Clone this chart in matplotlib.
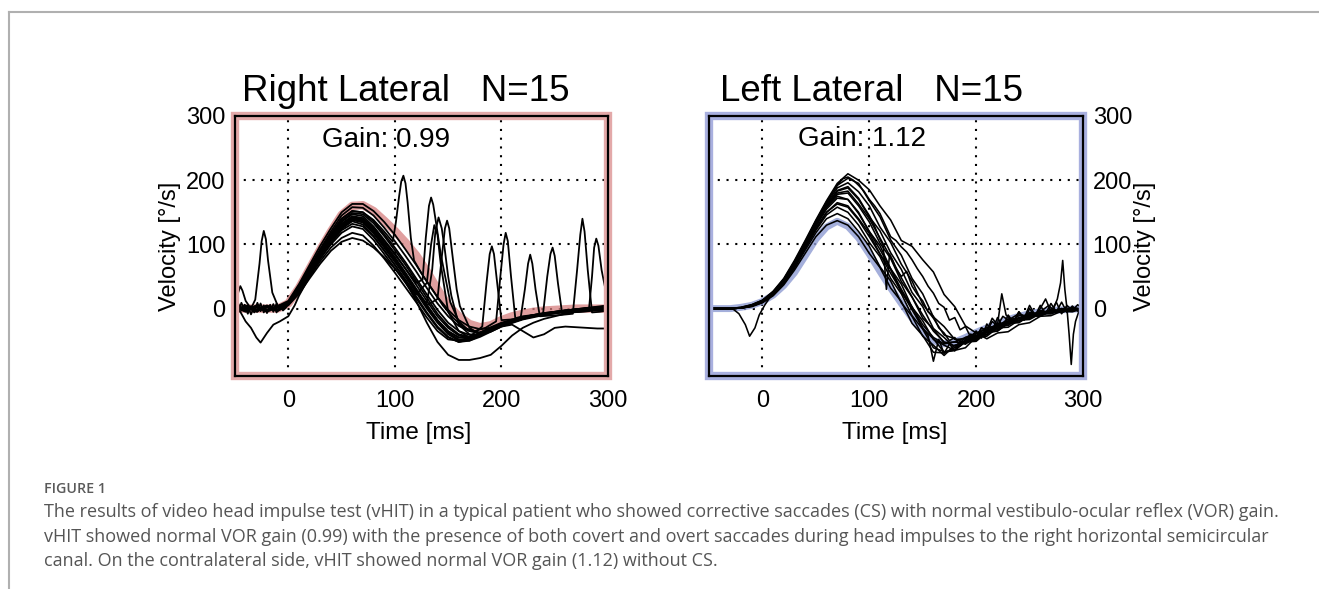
import matplotlib as mpl; mpl.use('Agg')
import matplotlib.pyplot as plt
from matplotlib.patches import Rectangle
from matplotlib.lines import Line2D

# time grid shared by most traces (ms)
t_grid = [-50, -40, -30, -20, -10, 0, 10, 20, 30, 40, 50, 60, 70, 80, 90, 100, 110, 120,
          130, 140, 150, 160, 170, 180, 190, 200, 210, 220, 230, 240, 250, 260, 270, 280, 290, 300]

# ---------------- Right Lateral (red head trace, eye traces with saccades) ----------------
head_right = [0, 0, 0, 0, 0, 8, 32, 62, 92, 120, 146, 160, 161, 152, 137, 121, 103, 83, 58, 30,
              5, -12, -24, -29, -26, -18, -12, -8, -5, -3, -2, -1, 0, 0, 0, 0]

eye_right = [
    [3, -4, 5, -3, 4, 12, 38, 68, 98, 125, 150, 163, 163, 152, 135, 115, 92, 68, 42, 18, -2, -18, -28, -32, -30, -24, -19, -14, -10, -7, -5, -3, -1, 1, 3, 5],
    [-2, 3, -5, 4, -2, 10, 35, 64, 93, 120, 145, 158, 157, 145, 126, 105, 82, 58, 32, 8, -12, -27, -35, -37, -32, -26, -20, -15, -11, -8, -5, -3, -1, 1, 2, 4],
    [4, -3, 2, -4, 3, 9, 33, 62, 90, 116, 140, 152, 150, 136, 116, 95, 72, 47, 22, -2, -22, -35, -41, -40, -34, -27, -21, -16, -12, -9, -6, -4, -2, 0, 2, 3],
    [-3, 2, -2, 5, -3, 8, 31, 60, 87, 112, 135, 147, 144, 128, 107, 86, 62, 37, 12, -12, -30, -42, -45, -40, -33, -26, -20, -15, -11, -8, -6, -4, -3, -1, 0, 1],
    [2, -5, 3, -2, 2, 8, 30, 58, 85, 109, 130, 142, 138, 121, 99, 77, 53, 28, 3, -20, -38, -48, -48, -41, -33, -26, -20, -15, -11, -8, -6, -4, -2, -1, 1, 2],
    [-4, 4, -3, 3, -4, 7, 28, 55, 82, 105, 124, 136, 131, 113, 91, 68, 44, 19, -6, -28, -44, -52, -50, -42, -34, -27, -21, -16, -12, -9, -7, -5, -3, -2, -1, 0],
    [3, -2, 4, -5, 3, 7, 27, 53, 78, 100, 118, 128, 124, 107, 85, 63, 40, 16, -8, -30, -45, -52, -48, -40, -32, -25, -19, -15, -12, -9, -7, -6, -5, -4, -3, -2],
    [-2, 5, -4, 2, -2, 6, 25, 50, 74, 95, 110, 118, 114, 98, 78, 56, 33, 10, -14, -35, -48, -50, -45, -37, -29, -22, -17, -13, -10, -8, -6, -5, -4, -3, -2, -1],
    [2, -3, 4, -3, 2, 5, 23, 47, 70, 90, 104, 110, 106, 95, 80, 62, 42, 12, -22, -52, -72, -80, -80, -77, -72, -58, -42, -30, -22, -16, -12, -8, -5, -3, -1, 0],
    [-1, 2, -4, 3, -2, 9, 31, 58, 85, 108, 128, 140, 136, 119, 97, 74, 50, 25, 0, -22, -40, -50, -50, -44, -36, -28, -25, -35, -45, -40, -30, -28, -29, -30, -31, -31],
]

# traces with a noisy baseline before the impulse
base_t = [-50, -47, -44, -41, -38, -35, -32, -29, -26, -23, -20, -17, -14, -11, -8, -5, -2, 0,
          10, 20, 30, 40, 50, 60, 70, 80, 90, 100, 110, 120, 130, 140, 150, 160, 170, 180,
          190, 200, 210, 220, 230, 240, 250, 260, 270, 280, 290, 300]
base_a_v = [-5, 8, -3, 6, -8, 4, -6, 9, -4, 5, -7, 6, -5, 8, -2, 4, 6, 10,
            29, 57, 84, 108, 128, 140, 136, 120, 98, 76, 53, 29, 5, -18, -35, -45, -46, -40,
            -32, -25, -19, -14, -10, -7, -5, -3, -1, 0, 1, 2]
base_b_v = [6, -6, 9, -2, 5, -9, 3, -5, 8, -6, 4, -3, 7, -6, 5, -3, 2, 7,
            33, 61, 89, 114, 137, 149, 147, 133, 113, 91, 68, 43, 17, -8, -27, -40, -44, -40,
            -33, -26, -20, -15, -11, -8, -6, -4, -2, 0, 1, 3]

# traces with corrective saccades (own time points)
sac_a_t = [-50, -47, -45, -43, -40, -35, -31, -27, -25, -23, -21, -19, -15, -10, -5, 0,
           10, 20, 30, 40, 50, 60, 70, 80, 90, 100, 110, 120, 130, 140, 150, 160, 170,
           182, 186, 189, 191, 193, 196, 200, 209, 218, 222, 225, 227, 229, 232, 236, 245, 255,
           267, 271, 274, 276, 278, 281, 285, 292, 300]
sac_a_v = [5, 25, 35, 28, 12, 0, 14, 70, 105, 121, 108, 75, 25, 5, 0, 8,
           30, 57, 85, 110, 132, 143, 140, 124, 102, 80, 56, 31, 6, -18, -36, -45, -44,
           -28, 40, 85, 97, 85, 40, -18, -17, -15, 30, 70, 84, 70, 30, -12, -11, -10,
           -8, 60, 115, 140, 120, 60, -6, -5, -3]
sac_b_t = [-50, -40, -30, -20, -10, 0, 10, 20, 30, 40, 50, 60, 70, 80, 90,
           98, 101, 104, 106, 108, 110, 112, 115, 118, 125, 135, 145, 155, 165, 175, 185,
           195, 199, 202, 204, 206, 209, 213, 220, 230, 239, 243, 246, 248, 250, 253, 257,
           265, 275, 282, 285, 287, 289, 291, 294, 297, 300]
sac_b_v = [-3, 4, -2, 3, -3, 9, 33, 62, 90, 116, 140, 152, 150, 138, 120,
           104, 135, 175, 198, 207, 195, 165, 110, 75, 55, 30, 5, -15, -30, -35, -30,
           -20, 50, 100, 118, 105, 50, -15, -12, -10, -9, 50, 85, 95, 82, 40, -8,
           -6, -5, -4, 50, 95, 109, 98, 60, 35, 20]
sac_c_t = [-50, -40, -30, -20, -10, 0, 10, 20, 30, 40, 50, 60, 70, 80, 90, 100, 110, 120,
           126, 129, 132, 134, 136, 139, 143, 146, 152, 160, 170, 180, 190, 200, 220, 240, 260, 280, 300]
sac_c_v = [2, -3, 3, -4, 2, 8, 31, 59, 86, 110, 132, 144, 141, 126, 105, 84, 62, 40,
           45, 110, 160, 173, 162, 130, 85, 60, 10, -20, -35, -38, -32, -25, -15, -8, -3, 0, 2]
sac_d_t = [-50, -40, -30, -20, -10, 0, 10, 20, 30, 40, 50, 60, 70, 80, 90, 100, 110, 120, 130,
           135, 138, 141, 144, 147, 150, 153, 160, 170, 180, 190, 200, 220, 240, 260, 280, 300]
sac_d_v = [-3, 2, -4, 3, -3, 7, 29, 56, 83, 106, 126, 138, 134, 117, 95, 73, 50, 26, 8,
           60, 120, 142, 125, 90, 50, 20, -25, -40, -42, -35, -27, -16, -9, -4, -1, 1]
sac_e_t = [-50, -40, -30, -20, -10, 0, 10, 20, 30, 40, 50, 60, 70, 80, 90, 100, 110, 120, 130, 140,
           144, 147, 149, 151, 155, 158, 161, 170, 180, 190, 200, 220, 240, 260, 280, 300]
sac_e_v = [4, -2, 2, -3, 4, 8, 30, 57, 84, 108, 128, 140, 136, 120, 98, 76, 53, 29, 5, 15,
           80, 125, 137, 125, 70, 30, 4, -30, -40, -36, -28, -17, -10, -5, -2, 0]
sac_f_t = [-50, -45, -40, -35, -30, -26, -20, -14, -8, -4, 0,
           6, 10, 20, 30, 40, 50, 60, 70, 80, 90, 100, 110, 120, 130,
           134, 137, 140, 143, 150, 160, 170, 180, 190, 200, 220, 240, 260, 280, 300]
sac_f_v = [0, -5, -20, -30, -45, -53, -38, -25, -20, -16, -12,
           5, 20, 50, 78, 102, 122, 132, 128, 112, 90, 68, 45, 22, 40,
           100, 130, 115, 70, -5, -35, -45, -42, -34, -26, -15, -8, -3, 0, 2]

# ---------------- Left Lateral (blue head trace, no saccades) ----------------
head_left = [0, 0, 0, 2, 5, 11, 21, 36, 56, 82, 108, 127, 136, 128, 110, 85, 58, 32, 8, -15,
             -35, -50, -55, -52, -45, -37, -30, -23, -17, -12, -8, -5, -3, -2, -1, 0]

eye_left = [
    [0, 0, 0, 2, 6, 13, 27, 47, 75, 106, 138, 168, 195, 210, 200, 185, 160, 138, 106, 97, 76, 57, 22, 3, -27, -38, -47, -38, -36, -25, -22, -12, -11, -4, -5, 0],
    [0, 0, 0, 2, 6, 13, 26, 46, 73, 104, 136, 166, 192, 203, 195, 168, 143, 107, 83, 47, 23, -13, -28, -48, -47, -49, -37, -35, -23, -22, -11, -11, -4, -6, 0, -1],
    [0, 0, 0, 1, 5, 12, 25, 44, 72, 103, 135, 163, 188, 196, 182, 160, 127, 103, 69, 43, 7, -15, -41, -47, -55, -45, -43, -30, -29, -18, -17, -8, -8, -1, -3, 1],
    [0, 0, 0, 1, 5, 12, 24, 43, 70, 100, 131, 160, 183, 188, 170, 143, 121, 87, 61, 25, 3, -31, -45, -61, -52, -51, -37, -35, -22, -21, -11, -12, -4, -6, 0, -2],
    [0, 0, 0, 1, 5, 11, 24, 43, 69, 99, 130, 158, 178, 180, 160, 135, 102, 78, 42, 18, -15, -32, -53, -52, -55, -42, -40, -27, -26, -15, -15, -7, -8, -2, -3, 1],
    [0, 0, 0, 1, 4, 11, 23, 42, 68, 98, 128, 155, 172, 170, 150, 120, 98, 62, 38, 2, -19, -48, -57, -65, -52, -49, -35, -33, -20, -19, -9, -10, -3, -5, 1, -1],
    [0, 0, 0, 1, 4, 11, 23, 41, 67, 96, 125, 150, 165, 160, 140, 117, 85, 61, 25, 3, -31, -47, -68, -65, -61, -44, -41, -27, -26, -14, -14, -6, -7, -1, -3, 1],
    [0, 0, 0, 1, 4, 10, 22, 40, 65, 94, 122, 146, 158, 150, 130, 103, 81, 47, 23, -11, -32, -61, -67, -65, -49, -47, -33, -31, -19, -19, -8, -9, -2, -4, 1, -1],
    [0, 0, 0, 1, 4, 10, 21, 39, 63, 91, 118, 140, 148, 140, 120, 97, 65, 43, 9, -12, -43, -57, -73, -57, -53, -39, -37, -24, -23, -11, -12, -4, -6, 0, -3, 1],
    [0, 0, 0, 1, 3, 9, 20, 37, 60, 86, 112, 130, 137, 130, 112, 86, 64, 32, 11, -23, -42, -68, -69, -61, -45, -43, -29, -28, -16, -16, -6, -8, -1, -4, 1, -1],
]

noisy_a_t = [-50, -40, -30, -20, -10, 0, 10, 20, 30, 40, 50, 60, 70, 75, 80,
             85, 90, 95, 100, 105, 110, 115, 120, 125, 130, 135, 140, 145, 150, 155, 160, 165, 170,
             175, 180, 185, 190, 195, 200, 205, 210, 215, 220, 225, 230, 235, 240, 245, 250, 255,
             260, 265, 270, 275, 280, 285, 290, 295, 300]
noisy_a_v = [0, 0, 0, 1, 5, 12, 25, 45, 72, 104, 136, 166, 192, 202, 205,
             200, 192, 183, 170, 160, 148, 130, 112, 106, 96, 88, 76, 62, 50, 35, 24, 8, 2,
             -18, -14, -33, -28, -45, -35, -46, -24, -35, -14, -28, -10, -22, -5, -18, 0, -12,
             5, -8, 8, -5, 10, -6, 4, -4, 2]
noisy_b_t = [-50, -40, -30, -20, -10, 0, 10, 20, 30, 40, 50, 60, 70, 80, 90,
             95, 100, 105, 110, 113, 116, 119, 122, 125,
             130, 135, 140, 145, 150, 155, 160, 165, 170, 175, 180, 185, 190, 195, 200, 205, 210,
             215, 220, 225, 230, 240, 250, 260, 270, 280, 290, 300]
noisy_b_v = [0, 0, 0, 1, 5, 12, 24, 44, 71, 101, 133, 161, 184, 190, 172,
             158, 145, 128, 108, 98, 30, 85, 75, 62,
             50, 58, 35, 22, 12, -5, -12, -30, -38, -50, -45, -58, -48, -40, -46, -30, -36,
             -20, -27, -12, -18, -8, -14, -3, -7, 0, -3, 0]
noisy_c_t = [-50, -40, -30, -20, -10, 0, 10, 20, 30, 40, 50, 60, 70, 80, 90, 100, 110, 120, 130, 140, 150,
             155, 160, 165, 170, 175, 180, 185, 190, 195, 200, 205, 210, 215, 220,
             224, 228, 235, 240, 245, 250, 255, 260, 265, 270, 275, 280, 285, 290, 295, 300]
noisy_c_v = [0, 0, 0, 1, 4, 10, 22, 41, 66, 95, 124, 150, 163, 158, 138, 112, 85, 55, 27, -2, -30,
             -42, -82, -48, -70, -55, -66, -50, -55, -40, -45, -30, -35, -15, -25,
             23, -10, -20, -5, -15, 5, -10, 0, 15, -5, 10, -8, 5, -3, 6, 0]
spike_t = [-50, -40, -30, -20, -10, 0, 10, 20, 30, 40, 50, 60, 70, 80, 90, 100, 110, 120, 130, 140,
           150, 160, 170, 180, 190, 200, 210, 220, 230, 240, 250, 260,
           268, 272, 276, 279, 281, 283, 285, 287, 289, 291, 293, 296, 300]
spike_v = [0, 0, 0, 1, 5, 12, 24, 43, 70, 100, 131, 159, 180, 183, 163, 140, 110, 80, 48, 18,
           -10, -35, -52, -58, -50, -42, -35, -28, -20, -15, -12, -5,
           5, -2, 15, 40, 75, 30, 0, -40, -87, -40, -20, -5, 0]
dip_t = [-50, -28, -22, -16, -12, -7, -3, 2, 10, 20, 30, 40, 50, 60, 70, 80, 90, 100,
         110, 120, 130, 140, 150, 160, 170, 180, 190, 200, 220, 240, 260, 280, 300]
dip_v = [0, 0, -8, -25, -43, -30, -10, 5, 25, 45, 72, 102, 132, 158, 175, 170, 148, 120,
         92, 62, 30, 2, -25, -45, -55, -52, -45, -38, -25, -15, -8, -3, 0]

xticks = [0, 100, 200, 300]
yticks = [0, 100, 200, 300]

plt.rcParams['font.family'] = ['Liberation Sans', 'DejaVu Sans']

fig = plt.figure(figsize=(13.19, 5.89), dpi=100)
W, H = 1319., 589.

ax1 = fig.add_axes([235 / W, 1 - 376 / H, 373 / W, 260 / H])
ax2 = fig.add_axes([709 / W, 1 - 376 / H, 374 / W, 260 / H])


def style(ax, frame_color, right=False):
    ax.set_xlim(-50, 300)
    ax.set_ylim(-105, 300)
    ax.set_xticks(xticks)
    ax.set_yticks(yticks)
    ax.grid(True, color='k', linestyle=(0, (1, 3.2)), linewidth=1.5)
    ax.set_axisbelow(True)
    ax.tick_params(length=0, labelsize=17)
    ax.tick_params(axis='x', pad=10)
    ax.tick_params(axis='y', pad=7)
    if right:
        ax.yaxis.tick_right()
    for s in ax.spines.values():
        s.set_linewidth(1.6)
        s.set_color('k')
        s.set_zorder(5)
    ax.add_patch(Rectangle((0, 0), 1, 1, transform=ax.transAxes, fill=False,
                           ec=frame_color, lw=6, clip_on=False, zorder=4))


# Right Lateral panel
ax1.plot(t_grid, head_right, color='#d67f7f', lw=6, alpha=0.75, zorder=2, solid_capstyle='round')
for tr in eye_right:
    ax1.plot(t_grid, tr, color='k', lw=1.3, zorder=3)
for tt, vv in [(base_t, base_a_v), (base_t, base_b_v), (sac_a_t, sac_a_v), (sac_b_t, sac_b_v),
               (sac_c_t, sac_c_v), (sac_d_t, sac_d_v), (sac_e_t, sac_e_v), (sac_f_t, sac_f_v)]:
    ax1.plot(tt, vv, color='k', lw=1.3, zorder=3)
style(ax1, '#e3a9a9')

# Left Lateral panel
ax2.plot(t_grid, head_left, color='#8e9bd2', lw=5, alpha=0.8, zorder=2, solid_capstyle='round')
for tr in eye_left:
    ax2.plot(t_grid, tr, color='k', lw=1.15, zorder=3)
for tt, vv in [(noisy_a_t, noisy_a_v), (noisy_b_t, noisy_b_v), (noisy_c_t, noisy_c_v),
               (spike_t, spike_v), (dip_t, dip_v)]:
    ax2.plot(tt, vv, color='k', lw=1.15, zorder=3)
style(ax2, '#a9b0df', right=True)

# titles, gain, axis labels
ax1.text(0.458, 1.058, 'Right Lateral   N=15', transform=ax1.transAxes, ha='center',
         va='baseline', fontsize=26.5)
ax2.text(0.4345, 1.058, 'Left Lateral   N=15', transform=ax2.transAxes, ha='center',
         va='baseline', fontsize=26.5)
ax1.text(0.405, 0.881, 'Gain: 0.99', transform=ax1.transAxes, ha='center', va='baseline',
         fontsize=20, zorder=6)
ax2.text(0.408, 0.885, 'Gain: 1.12', transform=ax2.transAxes, ha='center', va='baseline',
         fontsize=20, zorder=6)
ax1.text(-0.174, 0.5, 'Velocity [°/s]', transform=ax1.transAxes, rotation=90,
         ha='center', va='center', fontsize=17)
ax2.text(1.166, 0.5, 'Velocity [°/s]', transform=ax2.transAxes, rotation=90,
         ha='center', va='center', fontsize=17)
ax1.text(0.492, -0.219, 'Time [ms]', transform=ax1.transAxes, ha='center', va='center',
         fontsize=17.5)
ax2.text(0.497, -0.219, 'Time [ms]', transform=ax2.transAxes, ha='center', va='center',
         fontsize=17.5)

# page frame lines
fig.add_artist(Line2D([9 / W, 1], [1 - 12 / H, 1 - 12 / H], transform=fig.transFigure,
                      color='#b0b0b0', lw=1.5))
fig.add_artist(Line2D([9 / W, 9 / W], [0, 1 - 12 / H], transform=fig.transFigure,
                      color='#b0b0b0', lw=1.5))

# caption
cap_font = ['Open Sans', 'DejaVu Sans']
fig.text(44 / W, 1 - 489 / H, 'FIGURE 1', fontsize=10.3, fontweight='semibold',
         color='#5a5a5a', family=cap_font, va='center')
caption = [
    "The results of video head impulse test (vHIT) in a typical patient who showed corrective saccades (CS) with normal vestibulo-ocular reflex (VOR) gain.",
    "vHIT showed normal VOR gain (0.99) with the presence of both covert and overt saccades during head impulses to the right horizontal semicircular",
    "canal. On the contralateral side, vHIT showed normal VOR gain (1.12) without CS.",
]
for i, line in enumerate(caption):
    fig.text(44 / W, 1 - (512 + 24.5 * i) / H, line, fontsize=13, color='#555555',
             family=cap_font, va='center')

plt.savefig('out.png', dpi=100)
